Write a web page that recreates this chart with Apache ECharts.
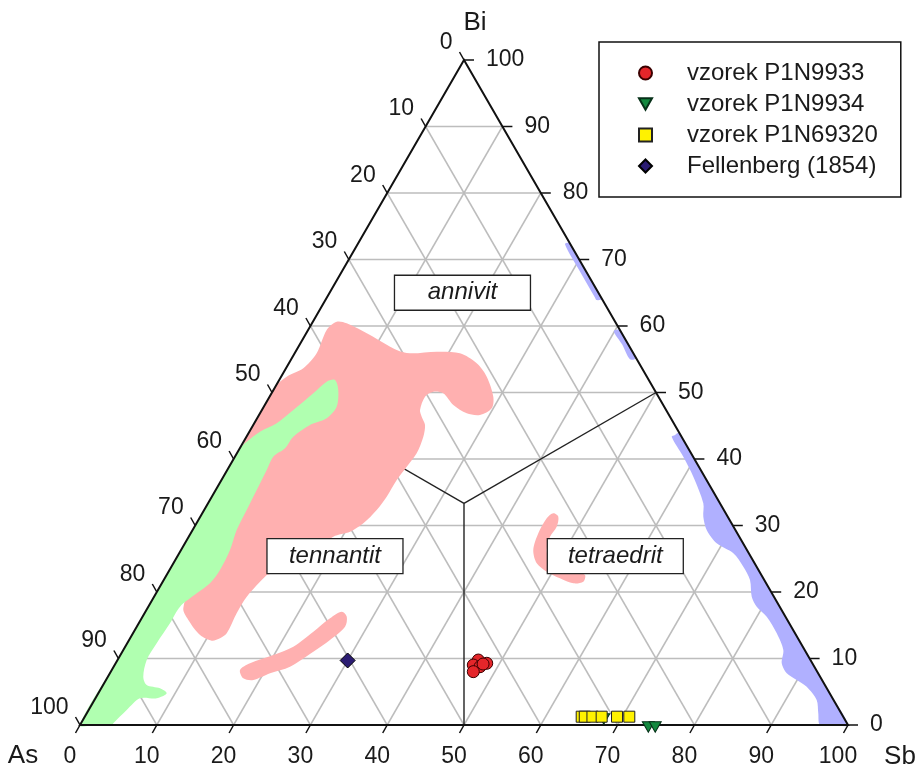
<!DOCTYPE html>
<html><head><meta charset="utf-8">
<script src="https://cdn.jsdelivr.net/npm/echarts@6/dist/echarts.min.js"></script>
<style>html,body{margin:0;padding:0;background:#fff}#c{width:916px;height:771px}</style>
</head><body><div id="c"></div>
<script>
// ---- data (ternary: [Sb, Bi], As = 100 - Sb - Bi) ----
const TICKS = [0,10,20,30,40,50,60,70,80,90,100];
const AXIS_TITLES = {As:'As', Sb:'Sb', Bi:'Bi'};
const FIELD_LABELS = ['annivit','tennantit','tetraedrit'];
const FIELD_LABEL_POS = [[17.3,65.0],[20.5,25.4],[57.0,25.4]];
const FIELD_CENTER = [33.333,33.333];
const FIELD_ENDS = [[50,50],[50,0],[0,50]];
const SERIES_NAMES = ['vzorek P1N9933','vzorek P1N9934','vzorek P1N69320','Fellenberg (1854)'];
const P1N9933 = [[46.98,9.77],[48.32,9.28],[46.7,9.02],[47.7,8.77],[47.2,8.02],[47.9,9.17]];
const P1N9934 = [[67.6,1.2],[74.0,0],[74.9,0]];
const P1N69320 = [[64.7,1.25],[65.1,1.25],[66.1,1.25],[67.3,1.25],[69.3,1.25],[70.9,1.25]];
const FELLENBERG = [[30.0,9.7]];

const PINK_MAIN = [[2.42,59.40],[3.10,60.65],[4.52,60.41],[8.44,58.65],[13.04,56.39],[15.02,55.89],[18.38,56.14],[21.53,55.89],[24.46,54.39],[26.77,52.38],[29.13,49.37],[29.80,47.62],[28.77,46.62],[26.92,46.87],[24.55,48.12],[22.36,49.88],[20.94,50.12],[20.24,49.37],[20.59,47.37],[21.31,46.36],[22.37,45.11],[23.03,43.35],[23.41,40.86],[23.12,38.84],[22.82,36.84],[22.77,34.33],[22.47,32.33],[21.73,30.33],[20.63,29.07],[18.82,28.32],[16.25,24.81],[13.39,22.71],[13.03,22.56],[12.07,19.29],[12.00,16.80],[12.21,13.79],[11.71,13.04],[10.81,12.68],[8.87,13.53],[6.21,15.79],[4.68,17.54],[3.32,23.31],[2.27,29.32],[1.60,35.34],[0.31,41.05],[0,44],[0,47],[0,51],[0.72,52.38],[2.26,53.64],[2.87,55.89]];
const PINK_LOW = [[17.75,7.02],[16.70,8.27],[17.50,9.28],[19.91,10.53],[21.89,11.77],[23.37,14.03],[24.53,16.05],[25.56,17.04],[26.59,16.29],[27.12,14.78],[26.16,12.78],[24.87,11.02],[22.96,8.77],[20.86,7.77],[19.19,6.77]];
const PINK_TETR = [[45.72,31.83],[46.62,31.32],[47.16,29.82],[47.04,28.32],[47.61,26.32],[48.92,24.56],[50.72,23.56],[53.15,23.05],[54.48,22.56],[54.76,21.55],[53.58,21.31],[51.47,22.06],[49.25,23.05],[47.31,24.32],[45.86,26.32],[45.26,28.83],[45.23,31.08]];
const GREEN = [[6.31,51.62],[7.26,51.88],[8.44,50.38],[9.49,47.86],[9.06,46.12],[7.39,45.11],[6.10,43.35],[5.89,41.61],[4.99,40.35],[5.14,38.35],[5.34,35.34],[5.54,32.33],[5.74,29.32],[6.37,26.32],[6.57,23.31],[6.27,21.31],[5.30,19.80],[4.13,17.79],[4.07,15.29],[3.84,12.29],[3.80,9.77],[4.61,7.26],[5.67,6.02],[7.66,5.52],[8.90,4.77],[7.98,4.02],[5.80,4.02],[4.95,2.26],[4.21,0.26],[4.17,0],[2,0],[0,0],[0,10],[0,20],[0,30],[0,41.5],[0.41,42.60],[1.38,44.11],[2.93,45.37],[4.09,47.37],[5.44,49.88]];
const BLUE_TOP = [[27.5,72.5],[28.0,72.0],[31.9,68.1],[35.9,64.1],[35.3,63.9],[34.9,64.3],[31.0,68.2],[27.0,72.3]];
const BLUE_MID = [[40.6,59.4],[42.6,57.4],[44.8,55.2],[44.1,55.0],[42.0,57.2],[39.9,59.2]];
const BLUE_LOW = [[55.9,43.9],[55.67,43.61],[55.37,43.35],[58.38,40.35],[61.19,37.34],[64.49,33.34],[65.50,31.32],[66.94,29.32],[69.24,27.32],[72.16,25.82],[74.47,23.80],[76.34,21.80],[77.82,19.29],[79.22,17.79],[81.27,16.29],[83.83,13.79],[85.94,11.28],[86.73,9.28],[88.14,7.77],[89.94,6.77],[91.74,5.76],[94.04,3.76],[95.25,1.76],[96.35,0],[98,0],[100,0],[95,5],[90,10],[80,20],[70,30],[60,40],[56.2,43.8]];

// ---- helpers ----
const S3 = Math.sqrt(3)/2;
const toXY = (sb, bi) => [sb + bi/2, bi*S3];
const FONT = '"Liberation Sans", Arial, Helvetica, sans-serif';
const pt = (api, sb, bi) => api.coord(toXY(sb, bi));

function staticSeries(z, build) {
  return {type:'custom', coordinateSystem:'cartesian2d', data:[[0,0]], z:z, silent:true, clip:false,
    encode:{x:0,y:1},
    renderItem:(params, api)=>({type:'group', children: build(api)})};
}
function seg(api,a,b,stroke,w){
  const p=pt(api,a[0],a[1]), q=pt(api,b[0],b[1]);
  return {type:'line', shape:{x1:p[0],y1:p[1],x2:q[0],y2:q[1]}, style:{stroke:stroke, lineWidth:w}};
}
function region(api, pts, color){
  return {type:'polygon', shape:{points: pts.map(p=>pt(api,p[0],p[1])), smooth:0.3}, style:{fill:color, stroke:null}};
}

const gridSeries = staticSeries(1, api=>{
  const out=[];
  TICKS.slice(1,-1).forEach(v=>{
    out.push(seg(api,[0,v],[100-v,v],'#bdbdbd',1.5));
    out.push(seg(api,[v,0],[v,100-v],'#bdbdbd',1.5));
    out.push(seg(api,[100-v,0],[0,100-v],'#bdbdbd',1.5));
  });
  return out;
});
const divSeries = staticSeries(2, api=> FIELD_ENDS.map(e=>seg(api,FIELD_CENTER,e,'#222',1.4)));
const regionSeries = staticSeries(3, api=>[
  region(api, PINK_MAIN, '#ffb0b0'),
  region(api, PINK_LOW, '#ffb0b0'),
  region(api, PINK_TETR, '#ffb0b0'),
  region(api, GREEN, '#b0ffb0'),
  region(api, BLUE_TOP, '#b0b0ff'),
  region(api, BLUE_MID, '#b0b0ff'),
  region(api, BLUE_LOW, '#b0b0ff')
]);
const frameSeries = staticSeries(4, api=>{
  const out=[];
  const A=pt(api,0,0), B=pt(api,100,0), C=pt(api,0,100);
  out.push({type:'polygon', shape:{points:[A,B,C]}, style:{fill:null, stroke:'#111', lineWidth:2}});
  const txt = (x,y,t,align,va,size)=>({type:'text', x:x, y:y, style:{text:t, fontSize:size, fontFamily:FONT, fill:'#1a1a1a', align:align, verticalAlign:va}});
  TICKS.forEach(v=>{
    // bottom axis (Sb)
    let p = pt(api, v, 0);
    out.push({type:'line', shape:{x1:p[0],y1:p[1],x2:p[0]-4.5,y2:p[1]+8}, style:{stroke:'#111',lineWidth:1.5}});
    out.push(txt(p[0]-10, p[1]+32, String(v), 'center','middle',23));
    // right axis (Bi)
    p = pt(api, 100-v, v);
    out.push({type:'line', shape:{x1:p[0],y1:p[1],x2:p[0]+10,y2:p[1]}, style:{stroke:'#111',lineWidth:1.5}});
    out.push(txt(p[0]+22, p[1], String(v), 'left','middle',23));
    // left axis (As)
    p = pt(api, 0, 100-v);
    out.push({type:'line', shape:{x1:p[0],y1:p[1],x2:p[0]-4.5,y2:p[1]-8}, style:{stroke:'#111',lineWidth:1.5}});
    out.push(txt(p[0]-11.5, p[1]-17.5, String(v), 'right','middle',23));
  });
  out.push(txt(C[0]+11, C[1]-37, AXIS_TITLES.Bi, 'center','middle',26));
  out.push(txt(A[0]-57, A[1]+31, AXIS_TITLES.As, 'center','middle',26));
  out.push(txt(B[0]+52, B[1]+32, AXIS_TITLES.Sb, 'center','middle',26));
  return out;
});
const labelSeries = staticSeries(5, api=>{
  const out=[];
  FIELD_LABELS.forEach((t,i)=>{
    const p = pt(api, FIELD_LABEL_POS[i][0], FIELD_LABEL_POS[i][1]);
    out.push({type:'rect', shape:{x:p[0]-68, y:p[1]-17.5, width:136, height:35}, style:{fill:'#fff', stroke:'#222', lineWidth:1.3}});
    out.push({type:'text', x:p[0], y:p[1], style:{text:t, fontSize:24, fontStyle:'italic', fontFamily:FONT, fill:'#1a1a1a', align:'center', verticalAlign:'middle'}});
  });
  return out;
});

const conv = arr => arr.map(d=>toXY(d[0], d[1]));
const scatter = (name, data, symbol, size, color, border, extra) => Object.assign({
  type:'scatter', name:name, data:conv(data), symbol:symbol, symbolSize:size, z:10,
  itemStyle:{color:color, borderColor:border, borderWidth:1, opacity:1}, emphasis:{disabled:true}
}, extra||{});

const option = {
  animation:false,
  backgroundColor:'#fff',
  grid:{left:80, top:60, width:768, height:665, show:false},
  xAxis:{type:'value', min:0, max:100, show:false},
  yAxis:{type:'value', min:0, max:100*S3, show:false},
  legend:{
    orient:'vertical', left:599, top:42, padding:[19,23,19,39], itemGap:7,
    itemWidth:13, itemHeight:13, borderColor:'#111', borderWidth:1.5, backgroundColor:'#fff',
    textStyle:{fontFamily:FONT, fontSize:24, color:'#1a1a1a', lineHeight:24, padding:[0,0,0,30]},
    data:SERIES_NAMES, selectedMode:false
  },
  series:[
    gridSeries, divSeries, regionSeries, frameSeries, labelSeries,
    scatter(SERIES_NAMES[0], P1N9933, 'circle', 12, '#e4262a', '#3b0000'),
    scatter(SERIES_NAMES[1], P1N9934, 'path://M0,0L12,0L6,10.4Z', [12,10.4], '#13893f', '#063018', {symbolOffset:[0,2]}),
    scatter(SERIES_NAMES[2], P1N69320, 'rect', 11, '#fff200', '#222'),
    scatter(SERIES_NAMES[3], FELLENBERG, 'diamond', 15, '#2b1c72', '#000')
  ]
};
const chart = echarts.init(document.getElementById('c'));
chart.setOption(option);
</script></body></html>
